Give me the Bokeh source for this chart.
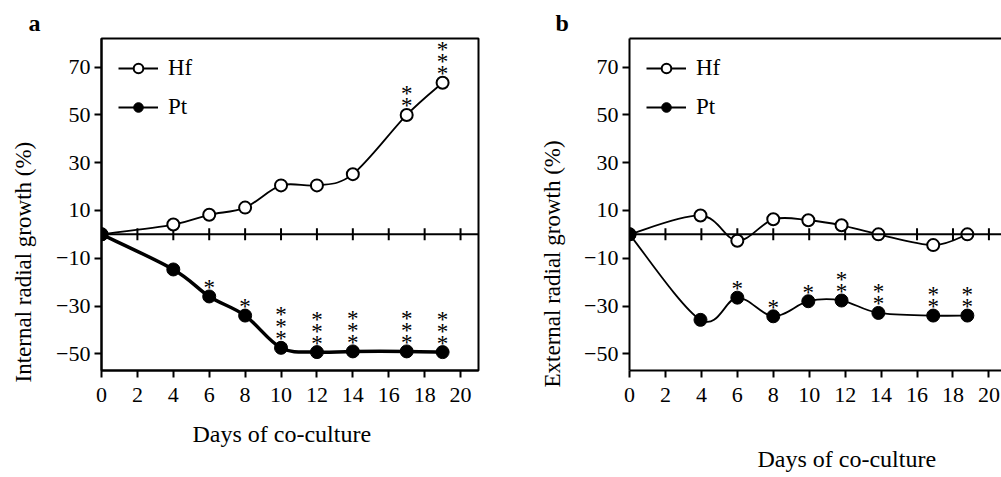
import math
from bokeh.plotting import figure
from bokeh.layouts import row
from bokeh.models import (Title, Legend, LegendItem, Span, FixedTicker,
                          LinearAxis, Range1d, ColumnDataSource)
from bokeh.embed import file_html
from bokeh.resources import INLINE

# ---------------- data ----------------
days_a = [0, 4, 6, 8, 10, 12, 14, 17, 19]
hf_a = [0, 4.1, 8.2, 11.2, 20.5, 20.5, 25.2, 50.0, 63.5]
pt_a = [0, -14.7, -26.0, -34.0, -47.5, -49.3, -49.0, -49.0, -49.3]
sig_hf_a = [0, 0, 0, 0, 0, 0, 0, 2, 3]
sig_pt_a = [0, 0, 1, 1, 3, 3, 3, 3, 3]

days_b = [0, 3.95, 6.0, 8.0, 9.95, 11.8, 13.85, 16.9, 18.8]
hf_b = [0, 7.9, -2.7, 6.3, 5.9, 3.8, 0.0, -4.5, 0.0]
pt_b = [0, -35.8, -26.5, -34.3, -28.0, -27.7, -32.9, -34.0, -34.0]
sig_hf_b = [0, 0, 0, 0, 0, 0, 0, 0, 0]
sig_pt_b = [0, 0, 1, 1, 1, 2, 2, 2, 2]

x_ticks = [0, 2, 4, 6, 8, 10, 12, 14, 16, 18, 20]
y_ticks = [-50, -30, -10, 10, 30, 50, 70]

FONT = "Liberation Serif"


def smooth_source(xs, ys):
    n = len(xs)
    d = dict(x0=[], y0=[], x1=[], y1=[], cx0=[], cy0=[], cx1=[], cy1=[])
    for i in range(n - 1):
        im1 = max(i - 1, 0)
        ip2 = min(i + 2, n - 1)
        d["x0"].append(xs[i]); d["y0"].append(ys[i])
        d["x1"].append(xs[i + 1]); d["y1"].append(ys[i + 1])
        d["cx0"].append(xs[i] + (xs[i + 1] - xs[im1]) / 6)
        d["cy0"].append(ys[i] + (ys[i + 1] - ys[im1]) / 6)
        d["cx1"].append(xs[i + 1] - (xs[ip2] - xs[i]) / 6)
        d["cy1"].append(ys[i + 1] - (ys[ip2] - ys[i]) / 6)
    return ColumnDataSource(d)


def star_source(xs, ys, sig):
    d = dict(x=[], y=[], off=[], t=[])
    for x, y, s in zip(xs, ys, sig):
        for k in range(s):
            d["x"].append(x); d["y"].append(y)
            d["off"].append(-(9 + 12 * k)); d["t"].append("*")
    return ColumnDataSource(d)


def make_title(text, size, style, offset, standoff, pad, fallback_standoff):
    t = Title(text=text, align="left", offset=offset, text_font=FONT,
              text_font_size=size, text_color="black", text_font_style=style,
              standoff=standoff)
    if pad:
        try:
            t.padding = pad
        except Exception:
            t.standoff = fallback_standoff
    return t


def make_panel(days, hf, pt, sig_hf, sig_pt, letter, ylabel, width,
               bl, br, x_end, pt_width, ylab_off, ylab_standoff, ylab_pad,
               ylab_fb, xlab_off, xlab_standoff, xlab_pad, xlab_fb,
               letter_off, outline):
    p = figure(width=width, height=477, x_range=Range1d(0, x_end),
               y_range=Range1d(-57, 82), output_backend="svg",
               toolbar_location=None, min_border_left=bl,
               min_border_right=br, min_border_top=38, min_border_bottom=107)
    p.grid.visible = False
    p.background_fill_color = "white"
    p.border_fill_color = "white"

    xa = p.xaxis[0]
    ya = p.yaxis[0]
    for ax in (xa, ya):
        ax.axis_line_width = 2
        ax.axis_line_color = "black"
        ax.major_tick_line_width = 2
        ax.major_tick_line_color = "black"
        ax.major_tick_in = 0
        ax.major_tick_out = 7
        ax.minor_tick_line_color = None
        ax.major_label_text_font = FONT
        ax.major_label_text_font_size = "22px"
        ax.major_label_text_color = "black"
    xa.ticker = FixedTicker(ticks=x_ticks)
    ya.ticker = FixedTicker(ticks=y_ticks)
    xa.major_label_standoff = 10
    ya.major_label_standoff = 4

    if outline:
        p.outline_line_color = "black"
        p.outline_line_width = 2
    else:
        p.outline_line_color = None
        top = LinearAxis(ticker=FixedTicker(ticks=[]), axis_line_width=2,
                         axis_line_color="black", major_tick_line_color=None,
                         minor_tick_line_color=None,
                         major_label_text_font_size="0px")
        p.add_layout(top, "above")

    # zero line with crossing ticks
    p.add_layout(Span(location=0, dimension="width", line_color="black",
                      line_width=2))
    p.scatter(x=x_ticks, y=[0] * len(x_ticks), marker="dash", angle=math.pi / 2,
              size=12, line_color="black", line_width=2)

    # curves
    p.bezier(x0="x0", y0="y0", x1="x1", y1="y1", cx0="cx0", cy0="cy0",
             cx1="cx1", cy1="cy1", source=smooth_source(days, hf),
             line_color="black", line_width=1.8, line_cap="round")
    p.bezier(x0="x0", y0="y0", x1="x1", y1="y1", cx0="cx0", cy0="cy0",
             cx1="cx1", cy1="cy1", source=smooth_source(days, pt),
             line_color="black", line_width=pt_width, line_cap="round")
    hf_pts = p.scatter(x=days, y=hf, marker="circle", size=12,
                       fill_color="white", line_color="black", line_width=2)
    pt_pts = p.scatter(x=days, y=pt, marker="circle", size=13,
                       fill_color="black", line_color="black", line_width=1)

    # significance stars
    for src in (star_source(days, hf, sig_hf), star_source(days, pt, sig_pt)):
        p.text(x="x", y="y", text="t", y_offset="off", source=src,
               text_font=dict(value=FONT), text_font_size="23px",
               text_align="center", text_baseline="middle",
               text_color="black")

    # legend (one-point lines: draw nothing in the plot, only the swatch)
    hf_leg = p.line(x=days[:1], y=hf[:1], line_color="black", line_width=1.8)
    pt_leg = p.line(x=days[:1], y=pt[:1], line_color="black", line_width=1.8)
    legend = Legend(items=[LegendItem(label="Hf", renderers=[hf_leg, hf_pts]),
                           LegendItem(label="Pt", renderers=[pt_leg, pt_pts])],
                    location="top_left", margin=17, padding=0, spacing=13,
                    glyph_width=40, glyph_height=24, label_height=24,
                    label_standoff=10, label_text_font=FONT,
                    label_text_font_size="23px", label_text_color="black",
                    border_line_color=None, background_fill_alpha=0)
    p.add_layout(legend)

    # axis titles and panel letter
    p.add_layout(make_title(ylabel, "23px", "normal", ylab_off, ylab_standoff,
                            ylab_pad, ylab_fb), "left")
    p.add_layout(make_title("Days of co-culture", "24px", "normal", xlab_off,
                            xlab_standoff, xlab_pad, xlab_fb), "below")
    p.add_layout(Title(text=letter, align="left", offset=letter_off,
                       text_font=FONT, text_font_size="24px",
                       text_color="black", text_font_style="bold",
                       standoff=6), "above")
    return p


pa = make_panel(days_a, hf_a, pt_a, sig_hf_a, sig_pt_a, "a",
                "Internal radial growth (%)", 520, 101, 42, 21, 3.5,
                -12, 0, dict(top=0, bottom=18, left=0, right=0), 24,
                91, 29, None, 29,
                -73, True)
pb = make_panel(days_b, hf_b, pt_b, sig_hf_b, sig_pt_b, "b",
                "External radial growth (%)", 481, 109, 0, 20.7, 1.8,
                -17, 33, None, 33,
                128, 0, dict(top=39, bottom=0, left=0, right=0), 39,
                -74, False)

layout = row(pa, pb)
open("out.html", "w").write(file_html(layout, INLINE))
